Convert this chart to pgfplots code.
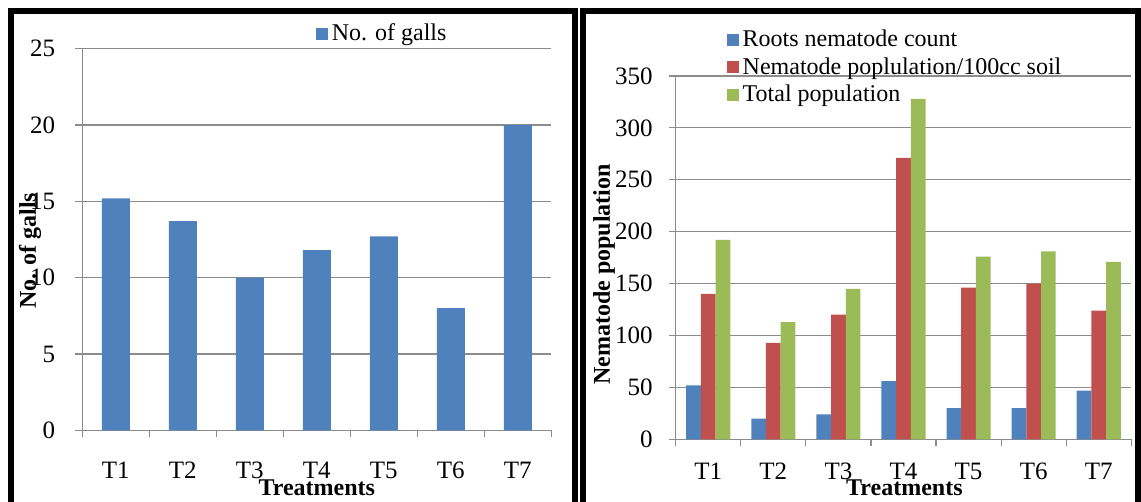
\documentclass[border=0pt]{standalone}
\usepackage{fontspec}
\setmainfont{Liberation Serif}
\usepackage{pgfplots}
\pgfplotsset{compat=1.18}
\definecolor{xblue}{HTML}{4F81BD}
\definecolor{xred}{HTML}{C0504D}
\definecolor{xgreen}{HTML}{9BBB59}
\definecolor{gridc}{HTML}{8C8C8C}
\pgfplotsset{
 sqlegend/.style={legend image code/.code={\fill[##1] (0pt,-3pt) rectangle (6pt,3pt);}},
 excel/.style={
  scale only axis,
  axis x line=bottom, axis y line=left,
  axis line style={draw=gridc, line width=0.6pt, -},
  ymajorgrids, grid style={draw=gridc, line width=0.6pt},
  tick style={draw=gridc, line width=0.6pt},
  tick align=outside, major tick length=3.5pt,
  xmin=0.5, xmax=7.5,
  xtick={0.5,1.5,...,7.5},
  xticklabels={T1,T2,T3,T4,T5,T6,T7},
  x tick label as interval,
  ymin=0,
  tick label style={font=\fontsize{12.5}{14}\selectfont},
  label style={font=\fontsize{12}{14}\selectfont\bfseries},
  legend style={draw=none, fill=none, font=\fontsize{12}{14.3}\selectfont, inner sep=0pt, outer sep=0pt},
  legend cell align=left,
 }
}
\begin{document}
\begin{tikzpicture}
\path[use as bounding box, clip] (0,0) rectangle (570.5pt,251pt);
% panel frames
\draw[line width=3pt] (5.5pt,-5pt) -- (5.5pt,245.5pt) -- (287.5pt,245.5pt) -- (287.5pt,-5pt);
\draw[line width=3pt] (291.25pt,-5pt) -- (291.25pt,245.5pt) -- (569pt,245.5pt) -- (569pt,-5pt);

\begin{axis}[excel,
  at={(41.15pt,35.85pt)}, anchor=south west,
  width=234.5pt, height=190.8pt,
  ymax=25, ytick={0,5,...,25},
  yticklabels={0,5,10,15,20,25},
  yticklabel style={xshift=-6.5pt},
  xticklabel style={yshift=-9pt},
  ybar, bar width=14pt,
  xlabel={Treatments},
  xlabel style={at={(axis description cs:0.5,-0.172)}, anchor=base},
  ylabel={No. of galls},
  ylabel style={at={(axis description cs:-0.1115,0.47)}, anchor=center},
  legend style={at={(axis description cs:0.498,1.0385)}, anchor=west},
]
\addplot[fill=xblue, draw=none, sqlegend] coordinates {(1,15.2) (2,13.7) (3,10) (4,11.8) (5,12.7) (6,8) (7,20)};
\addlegendentry{No. of galls}
\end{axis}

\begin{axis}[excel,
  at={(337.85pt,31.35pt)}, anchor=south west,
  width=227.8pt, height=181.65pt,
  ymax=350, ytick={0,50,...,350},
  yticklabels={0,50,100,150,200,250,300,350},
  yticklabel style={xshift=-4.5pt},
  xticklabel style={yshift=-5pt},
  ybar=0pt, bar width=7.35pt,
  xlabel={Treatments},
  xlabel style={at={(axis description cs:0.502,-0.156)}, anchor=base},
  ylabel={Nematode population},
  ylabel style={at={(axis description cs:-0.157,0.4536)}, anchor=center},
  legend style={at={(axis description cs:0.112,1.1376)}, anchor=north west},
]
\addplot[fill=xblue, draw=none, sqlegend] coordinates {(1,52) (2,20) (3,24) (4,56) (5,30) (6,30) (7,47)};
\addlegendentry{Roots nematode count}
\addplot[fill=xred, draw=none, sqlegend] coordinates {(1,140) (2,93) (3,120) (4,271) (5,146) (6,150) (7,124)};
\addlegendentry{Nematode poplulation/100cc soil}
\addplot[fill=xgreen, draw=none, sqlegend] coordinates {(1,192) (2,113) (3,145) (4,328) (5,176) (6,181) (7,171)};
\addlegendentry{Total population}
\end{axis}
\end{tikzpicture}
\end{document}
